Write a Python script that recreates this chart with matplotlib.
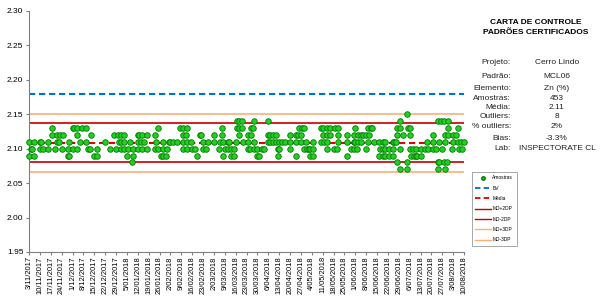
import numpy as np
import pandas as pd
import matplotlib
matplotlib.use('Agg')
import matplotlib.pyplot as plt
from matplotlib.lines import Line2D

plt.rcParams['font.family'] = ['Liberation Sans', 'DejaVu Sans']

start = pd.Timestamp('2017-11-03')
end = pd.Timestamp('2018-08-10')

# days after 3/11/2017 where a sample falls on each value
d215 = [243]
d214 = [134, 135, 137, 145, 154, 239, 263, 265, 267, 270]
d213 = [15, 28, 29, 31, 34, 37, 83, 97, 99, 102, 124, 134, 135, 137, 143, 144,
        174, 176, 177, 188, 189, 192, 194, 197, 199, 210, 218, 220, 221, 237,
        239, 244, 245, 270, 276]
d212 = [15, 18, 20, 22, 31, 40, 55, 57, 59, 61, 70, 71, 73, 76, 81, 99, 101,
        110, 111, 119, 124, 135, 141, 143, 154, 155, 157, 159, 168, 172, 173,
        175, 189, 192, 194, 199, 205, 209, 212, 214, 215, 217, 219, 237, 241,
        245, 260, 268, 270, 273, 275]
d211 = [0, 3, 7, 8, 12, 18, 19, 26, 33, 37, 49, 58, 59, 61, 65, 70, 72, 74,
        82, 86, 90, 91, 93, 95, 99, 102, 104, 112, 115, 119, 123, 125, 128,
        129, 133, 138, 141, 145, 154, 155, 157, 159, 161, 163, 165, 168, 172,
        175, 178, 183, 188, 190, 192, 199, 205, 209, 210, 212, 214, 218, 222,
        225, 228, 229, 234, 235, 236, 256, 260, 264, 268, 273, 276, 278, 280]
d210 = [1, 2, 7, 9, 12, 17, 21, 25, 28, 31, 38, 39, 44, 52, 56, 59, 61, 64,
        67, 70, 73, 76, 81, 83, 86, 89, 99, 102, 105, 107, 112, 114, 122, 126,
        128, 130, 132, 141, 142, 145, 147, 150, 151, 160, 161, 168, 177, 179,
        180, 181, 183, 192, 196, 198, 207, 209, 211, 217, 226, 228, 229, 232,
        234, 239, 245, 247, 249, 252, 255, 257, 260, 262, 266, 272, 277, 279]
d209 = [0, 3, 25, 26, 42, 44, 63, 67, 85, 86, 88, 108, 125, 130, 132, 147,
        148, 160, 172, 181, 183, 205, 225, 228, 229, 232, 234, 246, 248, 249,
        250, 252]
d208 = [66, 237, 243, 263, 264, 267, 269]
d207 = [239, 243, 263, 268]

levels = [2.15, 2.14, 2.13, 2.12, 2.11, 2.10, 2.09, 2.08, 2.07]
days_by_level = [d215, d214, d213, d212, d211, d210, d209, d208, d207]

bv = 2.18
media = 2.108
md_p2, md_m2 = 2.137, 2.080
md_p3, md_m3 = 2.151, 2.066

info_labels = ['Projeto:', 'Padrão:', 'Elemento:', 'Amostras:', 'Média:',
               'Outliers:', '% outliers:', 'Bias:', 'Lab:']
info_values = ['Cerro Lindo', 'MCL06', 'Zn (%)', '453', '2.11', '8', '2%',
               '-3.3%', 'INSPECTORATE CL']
info_y = [62, 77, 88, 98, 108, 117, 127, 138, 149]

xs, ys = [], []
for lv, dl in zip(levels, days_by_level):
    for d in dl:
        xs.append(start + pd.Timedelta(days=d))
        ys.append(lv)

fig = plt.figure(figsize=(6.04, 2.98), dpi=100)
ax = fig.add_axes([29 / 604, 1 - 252 / 298, 435 / 604, 241 / 298])

orange = '#F7B27A'
dred = '#C00000'
for y, c in [(md_p3, orange), (md_m3, orange), (md_p2, dred), (md_m2, dred)]:
    ax.axhline(y, color=c, lw=1.2, zorder=2)
ax.axhline(bv, color='#0070C0', ls=(0, (3, 1.8)), lw=1.5, zorder=2)
ax.axhline(media, color='#E00000', ls=(0, (3, 1.8)), lw=1.5, zorder=2)

ax.scatter(xs, ys, s=16, color='#22D022', edgecolors='#007A00', linewidths=0.6,
           zorder=3, clip_on=False)

ax.set_xlim(start, end)
ax.set_ylim(1.95, 2.30)
ax.set_yticks(np.arange(1.95, 2.3001, 0.05))
ax.yaxis.set_major_formatter(plt.FormatStrFormatter('%.2f'))
ticks = pd.date_range(start, end, freq='7D')
ax.set_xticks(ticks)
ax.set_xticklabels([f'{t.day}/{t.month:02d}/{t.year}' for t in ticks],
                   rotation=90)
ax.tick_params(axis='y', labelsize=6, length=2.5, color='#808080', pad=1.5)
ax.tick_params(axis='x', labelsize=5.4, length=2, color='#808080', pad=1)
for s in ['top', 'right']:
    ax.spines[s].set_visible(False)
for s in ['left', 'bottom']:
    ax.spines[s].set_color('#808080')
    ax.spines[s].set_linewidth(0.8)

fig.text(536 / 604, 1 - 22 / 298, 'CARTA DE CONTROLE', ha='center', va='center',
         fontsize=6, fontweight='bold')
fig.text(536 / 604, 1 - 33 / 298, 'PADRÕES CERTIFICADOS', ha='center',
         va='center', fontsize=6, fontweight='bold')
for lab, val, yy in zip(info_labels, info_values, info_y):
    fig.text(511 / 604, 1 - yy / 298, lab, ha='right', va='center', fontsize=6,
             color='#222222')
    fig.text(557 / 604, 1 - yy / 298, val, ha='center', va='center', fontsize=6,
             color='#222222')

handles = [
    Line2D([], [], ls='none', marker='o', ms=2.5, color='#22D022', mec='#007A00'),
    Line2D([], [], color='#0070C0', ls=(0, (3, 1.8)), lw=1.3),
    Line2D([], [], color='#E00000', ls=(0, (3, 1.8)), lw=1.3),
    Line2D([], [], color=dred, lw=1),
    Line2D([], [], color=dred, lw=1),
    Line2D([], [], color=orange, lw=1),
    Line2D([], [], color=orange, lw=1),
]
names = ['Amostras', 'BV', 'Média', 'MD+2DP', 'MD-2DP', 'MD+3DP', 'MD-3DP']
leg = fig.legend(handles, names, loc='upper left',
                 bbox_to_anchor=(472 / 604, 1 - 172 / 298), fontsize=3.5,
                 frameon=True, fancybox=False, edgecolor='#808080',
                 handlelength=3.2, labelspacing=1.1, borderpad=0.7,
                 handletextpad=0.3, borderaxespad=0)
leg.get_frame().set_linewidth(0.6)

fig.savefig('out.png', dpi=100)
